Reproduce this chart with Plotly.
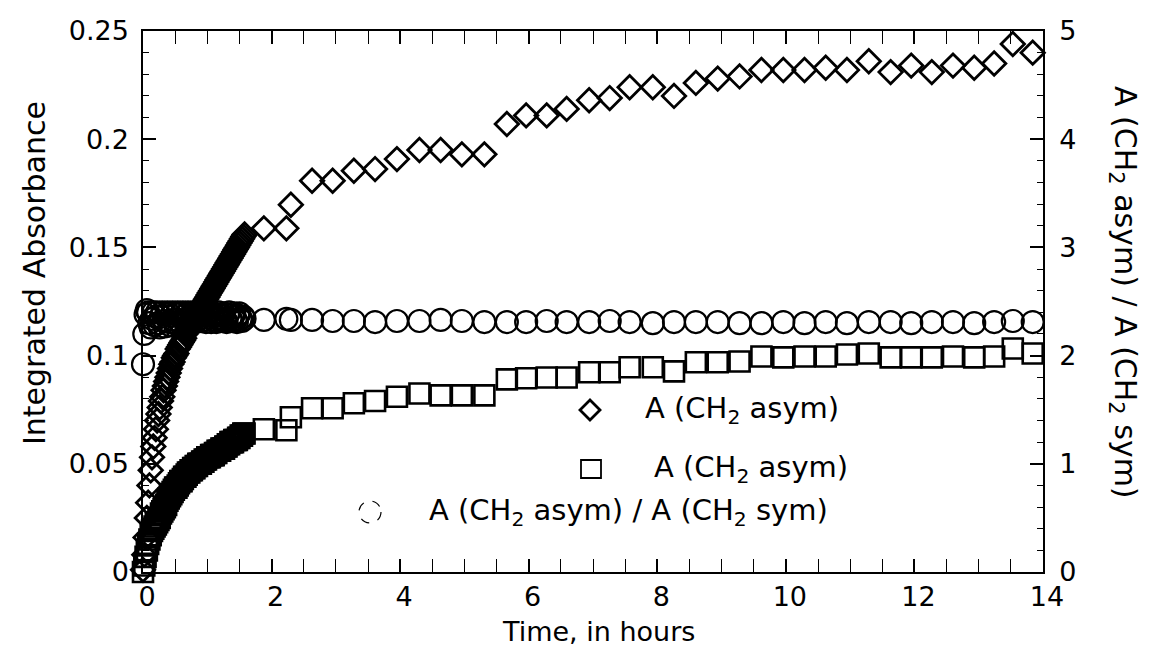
import plotly.graph_objects as go

# ---------------- data ----------------
# dense early measurements (hours)
time_dense = [0.00, 0.02, 0.04, 0.06, 0.08, 0.10, 0.12, 0.14, 0.16, 0.18,
              0.20, 0.22, 0.24, 0.26, 0.28, 0.30, 0.32, 0.34, 0.36, 0.38,
              0.40, 0.42, 0.44, 0.46, 0.48, 0.50, 0.52, 0.54, 0.56, 0.58,
              0.60, 0.62, 0.64, 0.66, 0.68, 0.70, 0.72, 0.74, 0.76, 0.78,
              0.80, 0.82, 0.84, 0.86, 0.88, 0.90, 0.92, 0.94, 0.96, 0.98,
              1.00, 1.02, 1.04, 1.06, 1.08, 1.10, 1.12, 1.14, 1.16, 1.18,
              1.20, 1.22, 1.24, 1.26, 1.28, 1.30, 1.32, 1.34, 1.36, 1.38,
              1.40, 1.42, 1.44, 1.46, 1.48, 1.50, 1.52, 1.54, 1.56, 1.58]
# later, sparser measurements (hours)
time_sparse = [1.88, 2.23, 2.30, 2.63, 2.95,
               3.28, 3.61, 3.95, 4.30, 4.63,
               4.96, 5.31, 5.66, 5.96, 6.28,
               6.59, 6.94, 7.26, 7.57, 7.93,
               8.26, 8.60, 8.94, 9.28, 9.62,
               9.96, 10.29, 10.62, 10.95, 11.29,
               11.63, 11.95, 12.27, 12.60, 12.93,
               13.24, 13.53, 13.84]

# diamonds: integrated absorbance (left axis)
diamond_dense = [0.001, 0.008, 0.016, 0.025, 0.032, 0.040, 0.047, 0.053, 0.058, 0.062,
                 0.066, 0.070, 0.073, 0.076, 0.079, 0.081, 0.084, 0.086, 0.088, 0.090,
                 0.092, 0.094, 0.096, 0.097, 0.099, 0.100, 0.101, 0.103, 0.104, 0.105,
                 0.106, 0.107, 0.108, 0.110, 0.111, 0.112, 0.113, 0.114, 0.115, 0.116,
                 0.117, 0.118, 0.119, 0.120, 0.121, 0.122, 0.123, 0.124, 0.125, 0.126,
                 0.127, 0.128, 0.129, 0.130, 0.131, 0.132, 0.133, 0.134, 0.135, 0.136,
                 0.137, 0.138, 0.139, 0.140, 0.141, 0.142, 0.143, 0.144, 0.145, 0.146,
                 0.147, 0.148, 0.149, 0.150, 0.151, 0.152, 0.153, 0.154, 0.155, 0.156]
diamond_sparse = [0.1588, 0.1588, 0.1697, 0.1808, 0.1808,
                  0.1854, 0.1862, 0.1908, 0.1950, 0.1950,
                  0.1930, 0.1930, 0.2070, 0.2110, 0.2110,
                  0.2140, 0.2180, 0.2190, 0.2240, 0.2240,
                  0.2200, 0.2260, 0.2280, 0.2290, 0.2320,
                  0.2320, 0.2320, 0.2330, 0.2320, 0.2360,
                  0.2310, 0.2340, 0.2310, 0.2340, 0.2330,
                  0.2350, 0.2440, 0.2400]

# squares: integrated absorbance (left axis)
square_dense = [0.000, 0.003, 0.007, 0.010, 0.013, 0.015, 0.017, 0.019, 0.020, 0.021,
                0.022, 0.023, 0.024, 0.025, 0.027, 0.028, 0.029, 0.030, 0.031, 0.033,
                0.034, 0.035, 0.036, 0.037, 0.038, 0.039, 0.039, 0.040, 0.041, 0.042,
                0.042, 0.043, 0.044, 0.044, 0.045, 0.046, 0.046, 0.047, 0.047, 0.048,
                0.048, 0.049, 0.049, 0.050, 0.050, 0.050, 0.051, 0.051, 0.052, 0.052,
                0.053, 0.053, 0.053, 0.054, 0.054, 0.054, 0.055, 0.055, 0.056, 0.056,
                0.056, 0.057, 0.057, 0.057, 0.058, 0.058, 0.059, 0.059, 0.060, 0.060,
                0.060, 0.061, 0.061, 0.061, 0.062, 0.062, 0.063, 0.063, 0.064, 0.064]
square_sparse = [0.0660, 0.0655, 0.0715, 0.0757, 0.0757,
                 0.0780, 0.0790, 0.0810, 0.0825, 0.0816,
                 0.0816, 0.0816, 0.0890, 0.0895, 0.0899,
                 0.0899, 0.0923, 0.0923, 0.0946, 0.0946,
                 0.0927, 0.0969, 0.0969, 0.0973, 0.0996,
                 0.0992, 0.0996, 0.0996, 0.1005, 0.1010,
                 0.0992, 0.0992, 0.0992, 0.0996, 0.0992,
                 0.0996, 0.1033, 0.1010]

# circles: ratio A(CH2 asym)/A(CH2 sym) (right axis)
ratio_dense = [1.92, 2.20, 2.38, 2.42, 2.40, 2.30, 2.26, 2.34, 2.40, 2.28,
               2.36, 2.40, 2.30, 2.26, 2.36, 2.40, 2.32, 2.27, 2.38, 2.40,
               2.31, 2.28, 2.37, 2.40, 2.33, 2.30, 2.38, 2.40, 2.32, 2.31,
               2.39, 2.40, 2.33, 2.31, 2.38, 2.40, 2.34, 2.31, 2.37, 2.40,
               2.34, 2.31, 2.38, 2.39, 2.34, 2.32, 2.37, 2.40, 2.33, 2.31,
               2.38, 2.40, 2.35, 2.31, 2.37, 2.39, 2.33, 2.31, 2.38, 2.40,
               2.34, 2.32, 2.37, 2.39, 2.33, 2.31, 2.38, 2.40, 2.34, 2.32,
               2.36, 2.39, 2.33, 2.31, 2.37, 2.39, 2.34, 2.32, 2.36, 2.34]
ratio_sparse = [2.33, 2.34, 2.33, 2.33, 2.32,
                2.32, 2.31, 2.32, 2.32, 2.33,
                2.32, 2.31, 2.31, 2.31, 2.32,
                2.31, 2.31, 2.32, 2.31, 2.30,
                2.31, 2.31, 2.31, 2.30, 2.30,
                2.31, 2.30, 2.31, 2.30, 2.31,
                2.31, 2.30, 2.31, 2.31, 2.30,
                2.31, 2.32, 2.31]

x_ticks = [0, 2, 4, 6, 8, 10, 12, 14]
left_ticks = [0, 0.05, 0.1, 0.15, 0.2, 0.25]
right_ticks = [0, 1, 2, 3, 4, 5]

legend_labels = ["A (CH<sub>2</sub> asym)",
                 "A (CH<sub>2</sub> asym)",
                 "A (CH<sub>2</sub> asym) / A (CH<sub>2</sub> sym)"]

# ---------------- figure ----------------
W, H = 1153, 649
ML, MR, MT, MB = 143, 110, 31, 77
PW, PH = W - ML - MR, H - MT - MB
FONT = "DejaVu Sans"


def px(xp):
    return (xp - ML) / PW


def py(yp):
    return (H - MB - yp) / PH


time_all = time_dense + time_sparse

fig = go.Figure()
fig.add_trace(go.Scatter(
    x=time_all, y=square_dense + square_sparse, mode="markers",
    marker=dict(symbol="square-open", size=20, color="black",
                line=dict(width=2.6, color="black")),
    cliponaxis=False, showlegend=False, name="A (CH2 asym) square"))
fig.add_trace(go.Scatter(
    x=time_all, y=diamond_dense + diamond_sparse, mode="markers",
    marker=dict(symbol="diamond-open", size=18, color="black",
                line=dict(width=2.8, color="black")),
    cliponaxis=False, showlegend=False, name="A (CH2 asym) diamond"))
fig.add_trace(go.Scatter(
    x=time_all, y=ratio_dense + ratio_sparse, mode="markers", yaxis="y2",
    marker=dict(symbol="circle-open", size=22, color="black",
                line=dict(width=2.2, color="black")),
    cliponaxis=False, showlegend=False, name="ratio"))

axis_font = dict(family=FONT, size=27, color="black")

fig.update_layout(
    width=W, height=H, autosize=False,
    margin=dict(l=ML, r=MR, t=MT, b=MB),
    paper_bgcolor="white", plot_bgcolor="white",
    showlegend=False,
    xaxis=dict(range=[0, 14], tickvals=x_ticks, ticks="inside", ticklen=13,
               tickwidth=1.5, tickcolor="black",
               minor=dict(dtick=0.5, tick0=0, ticks="inside", ticklen=6,
                          tickwidth=1, tickcolor="black"),
               showline=True, linecolor="black", linewidth=1.5,
               mirror="allticks", showgrid=False, zeroline=False,
               tickfont=axis_font, ticklabelstandoff=0, ticklabelshift=4),
    yaxis=dict(range=[0, 0.25], tickvals=left_ticks, ticks="inside",
               ticklen=13, tickwidth=1.5, tickcolor="black",
               minor=dict(dtick=0.01, tick0=0, ticks="inside", ticklen=6,
                          tickwidth=1, tickcolor="black"),
               showline=True, linecolor="black", linewidth=1.5,
               showgrid=False, zeroline=False, tickfont=axis_font,
               ticklabelstandoff=7),
    yaxis2=dict(range=[0, 5], tickvals=right_ticks, ticks="inside",
                ticklen=13, tickwidth=1.5, tickcolor="black",
                minor=dict(dtick=0.2, tick0=0, ticks="inside", ticklen=6,
                           tickwidth=1, tickcolor="black"),
                showline=True, linecolor="black", linewidth=1.5,
                overlaying="y", side="right", showgrid=False,
                zeroline=False, tickfont=axis_font, ticklabelstandoff=9),
)

ann = [
    dict(text="Time, in hours", x=px(598), y=py(648), xref="paper",
         yref="paper", showarrow=False,
         font=dict(family=FONT, size=27, color="black"),
         xanchor="center", yanchor="bottom", borderpad=0),
    dict(text="Integrated Absorbance", x=px(34), y=py(273), xref="paper",
         yref="paper", showarrow=False,
         font=dict(family=FONT, size=30, color="black"), textangle=-90,
         xanchor="center", yanchor="middle"),
    dict(text="A (CH<sub>2</sub> asym) / A (CH<sub>2</sub> sym)",
         x=px(1124), y=py(292), xref="paper", yref="paper", showarrow=False,
         font=dict(family=FONT, size=30, color="black"), textangle=90,
         xanchor="center", yanchor="middle"),
]
legend_font = dict(family=FONT, size=29, color="black")
leg_pos = [(643, 410), (652, 469), (427, 512)]
for lab, (lx, ly) in zip(legend_labels, leg_pos):
    ann.append(dict(text=lab, x=px(lx), y=py(ly), xref="paper", yref="paper",
                    showarrow=False, font=legend_font, xanchor="left",
                    yanchor="middle"))
fig.update_layout(annotations=ann)

# legend symbols
shapes = [
    dict(type="path", xref="paper", yref="paper", xsizemode="pixel",
         ysizemode="pixel", xanchor=px(590), yanchor=py(410),
         path="M -10 0 L 0 10 L 10 0 L 0 -10 Z",
         line=dict(color="black", width=2.8)),
    dict(type="rect", xref="paper", yref="paper", xsizemode="pixel",
         ysizemode="pixel", xanchor=px(591), yanchor=py(469),
         x0=-10, x1=10, y0=-9, y1=9, line=dict(color="black", width=1.8)),
    dict(type="circle", xref="paper", yref="paper", xsizemode="pixel",
         ysizemode="pixel", xanchor=px(370), yanchor=py(512),
         x0=-11, x1=11, y0=-11, y1=11,
         line=dict(color="black", width=1.2, dash="dash")),
]
fig.update_layout(shapes=shapes)

fig.write_html("out.html",
               config={"displayModeBar": False},
               post_script="document.body.style.margin='0px';"
                           "document.body.style.overflow='hidden';")
